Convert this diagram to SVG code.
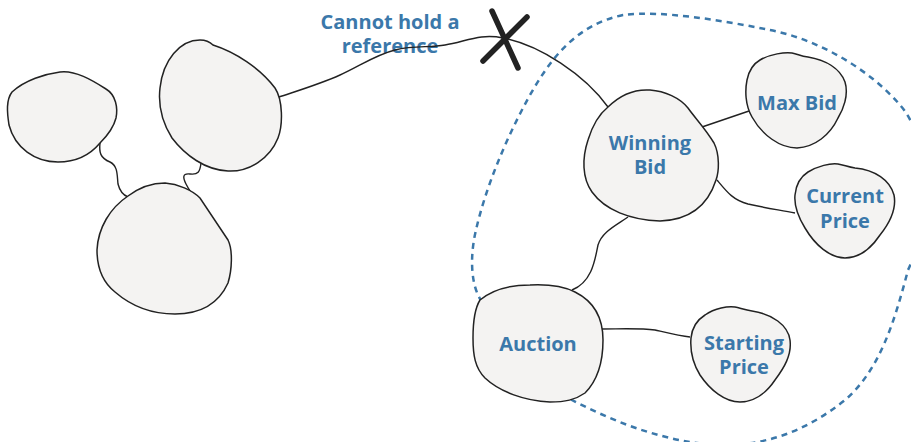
<svg xmlns="http://www.w3.org/2000/svg" width="911" height="442" viewBox="0 0 911 442">
<style>
.blob{fill:#f4f3f2;stroke:#222;stroke-width:1.5}
.conn{fill:none;stroke:#222;stroke-width:1.4}
.lbl{font-family:"Open Sans",Lato,sans-serif;font-weight:700;font-size:20px;fill:#3b78aa;text-anchor:middle}
.bound{fill:none;stroke:#3b78aa;stroke-width:2.5;stroke-dasharray:6 5}
.x{stroke:#222;stroke-width:5.5;stroke-linecap:round}
</style>
<rect width="911" height="442" fill="#fff"/>
<path class="bound" d="M482,302 C470,285 470,255 476,230 C485,190 505,140 530,95 C550,60 575,25 623,15 C660,10 720,20 770,30 C820,40 870,70 900,105 C932,140 930,225 908,270 C895,320 880,370 845,400 C810,428 770,446 720,445 C670,443 620,425 572,400 Z"/>
<g id="label">
<text class="lbl" x="390" y="29">Cannot hold a</text>
<text class="lbl" x="390" y="53">reference</text>
</g>
<g id="connectors">
<path class="conn" d="M100,143 C99,152 100,158 110,162 C118,166 117,175 118,184 C120,192 123,195 128,197"/>
<path class="conn" d="M201,163 C200,172 198,175 190,174 C182,173 183,178 186,184 C188,188 190,191 192,194"/>
<path class="conn" d="M279,97 C300,90 320,84 340,75 C360,66 375,55 395,50 C415,45 430,48 445,45 C465,42 480,33 503,38 C540,45 585,75 608,107"/>
<path class="conn" d="M702,127 L749,111"/>
<path class="conn" d="M717,180 C727,192 733,200 748,204 C765,208 780,210 795,213"/>
<path class="conn" d="M628,217 C615,226 602,232 598,245 C595,260 592,282 572,290"/>
<path class="conn" d="M602,329 C620,329 640,328 655,330 C668,333 680,336 690,337"/>
<line class="x" x1="492" y1="11" x2="518" y2="68"/>
<line class="x" x1="527" y1="17" x2="483" y2="61"/>
</g>
<g id="node-a">
<path class="blob" d="M12,92 C25,80 45,74 60,72 C75,70 92,80 106,89 C116,95 118,108 116,118 C113,130 105,138 100,143 C90,155 75,162 58,162 C35,162 15,148 9,125 C7,112 6,100 12,92 Z"/>
</g>
<g id="node-b">
<path class="blob" d="M213,45 C235,52 260,68 275,88 C283,100 283,125 278,138 C270,158 250,172 228,171 C205,170 185,155 172,138 C162,122 158,105 160,88 C163,60 180,40 200,40 C207,40 210,42 213,45 Z"/>
</g>
<g id="node-c">
<path class="blob" d="M128,196 C140,187 152,183 165,183 C178,184 192,190 200,198 L228,240 C233,250 232,270 228,283 C218,305 198,314 175,314 C150,314 130,305 115,292 C100,280 97,262 97,250 C98,228 110,208 128,196 Z"/>
</g>
<g id="winning-bid">
<path class="blob" d="M608,107 C620,95 635,89 650,90 C665,91 680,98 688,108 C695,118 705,128 714,143 C720,155 719,172 716,180 C708,205 690,220 660,221 C630,220 605,210 592,192 C582,178 582,158 588,140 C592,127 598,115 608,107 Z"/>
<text class="lbl" x="650" y="150">Winning</text>
<text class="lbl" x="650" y="174">Bid</text>
</g>
<g id="max-bid">
<path class="blob" d="M760,60 C770,54 785,52 792,53 C798,54 800,56 808,57 C825,60 840,68 845,82 C849,95 843,110 838,118 C830,135 815,147 797,148 C780,148 762,135 752,117 C745,105 745,90 747,80 C749,70 753,64 760,60 Z"/>
<text class="lbl" x="797" y="110">Max Bid</text>
</g>
<g id="current-price">
<path class="blob" d="M808,172 C818,166 830,163 838,164 C844,165 848,167 855,168 C875,170 890,180 894,195 C897,210 888,225 880,235 C870,250 858,258 845,258 C830,258 815,245 805,228 C797,215 794,205 795,195 C796,185 800,177 808,172 Z"/>
<text class="lbl" x="845" y="203">Current</text>
<text class="lbl" x="845" y="228">Price</text>
</g>
<g id="auction">
<path class="blob" d="M480,300 C492,290 510,285 530,285 C550,284 565,287 575,292 C595,302 603,320 603,340 C603,360 598,380 585,393 C575,400 565,402 550,402 C525,401 500,392 485,378 C475,368 473,355 473,338 C473,320 475,308 480,300 Z"/>
<text class="lbl" x="538" y="351">Auction</text>
</g>
<g id="starting-price">
<path class="blob" d="M705,315 C715,308 728,306 735,307 C740,308 745,310 752,311 C772,314 788,325 790,340 C792,355 784,368 775,380 C765,395 752,402 740,402 C725,402 710,390 700,375 C692,362 690,350 691,338 C692,328 697,320 705,315 Z"/>
<text class="lbl" x="744" y="350">Starting</text>
<text class="lbl" x="744" y="374">Price</text>
</g>
</svg>
